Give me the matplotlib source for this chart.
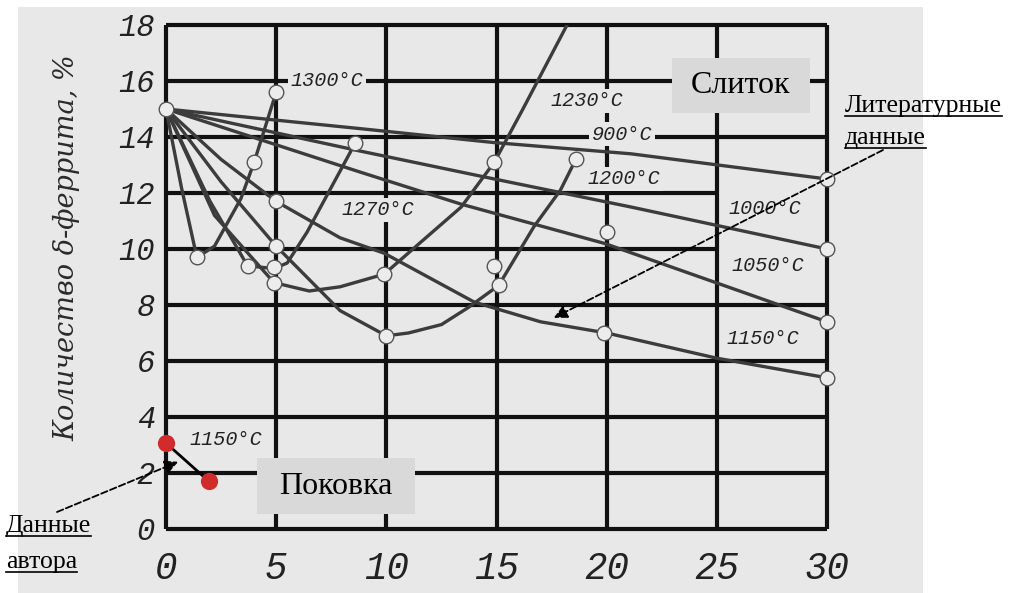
import numpy as np
import matplotlib.pyplot as plt
from matplotlib.patches import Rectangle
from matplotlib.lines import Line2D

# curves: hold time (x) vs amount of delta-ferrite, % (y)
t900 = [0, 8.8, 14.9, 21.1, 30]
f900 = [15, 14.3, 13.8, 13.4, 12.5]
t1000 = [0, 8.8, 14.9, 21.1, 30]
f1000 = [15, 13.5, 12.5, 11.5, 10.0]
t1050 = [0, 8.8, 13.4, 19.9, 30]
f1050 = [15, 12.75, 11.6, 10.2, 7.4]
t1150 = [0, 2.5, 5, 7.9, 9.9, 14, 17, 20, 25, 30]
f1150 = [15, 13.2, 11.7, 10.4, 9.85, 8.1, 7.4, 7.0, 6.1, 5.4]
t1200 = [0, 2.5, 5, 7.9, 10, 11, 12.5, 13.7, 15.1, 16.7, 17.9, 18.6]
f1200 = [15, 12.4, 10.1, 7.8, 6.9, 7.0, 7.3, 7.9, 8.7, 10.8, 12.1, 13.2]
t1230 = [0, 2.2, 4.9, 6.5, 7.9, 9.9, 11.5, 13.4, 14.9, 16.2, 18.2]
f1230 = [15, 11.2, 8.8, 8.5, 8.65, 9.1, 10.2, 11.5, 13.1, 15.0, 18.0]
t1270 = [0, 2.0, 3.7, 4.9, 5.5, 6.4, 7.5, 8.6]
f1270 = [15, 11.7, 9.4, 9.3, 9.5, 10.6, 12.2, 13.8]
t1300 = [0, 0.7, 1.4, 2.2, 3.4, 4.0, 5.0]
f1300 = [15, 12.2, 9.7, 10.1, 11.8, 13.1, 15.6]

# measured points (open circles)
circ_t = [0, 5, 4, 5, 5, 1.4, 3.7, 4.9, 4.9, 8.6, 14.9, 18.6, 20, 9.9,
          14.9, 15.1, 10, 19.9, 30, 30, 30, 30]
circ_f = [15, 15.6, 13.1, 11.7, 10.1, 9.7, 9.4, 9.36, 8.8, 13.8, 13.1, 13.2,
          10.6, 9.1, 9.4, 8.7, 6.9, 7.0, 12.5, 10.0, 7.4, 5.4]

# author's forging data (red)
red_t = [0, 1.95]
red_f = [3.07, 1.7]

curves = [(t900, f900), (t1000, f1000), (t1050, f1050), (t1150, f1150),
          (t1200, f1200), (t1230, f1230), (t1270, f1270), (t1300, f1300)]

# curve labels
lab_text = ['1300°C', '1230°C', '900°C', '1200°C', '1270°C', '1000°C',
            '1050°C', '1150°C', '1150°C']
lab_x = [7.3, 19.1, 20.7, 20.8, 9.6, 27.2, 27.3, 27.1, 2.7]
lab_y = [16.0, 15.3, 14.1, 12.5, 11.4, 11.45, 9.4, 6.8, 3.2]

x_ticks = [0, 5, 10, 15, 20, 25, 30]
y_ticks = [0, 2, 4, 6, 8, 10, 12, 14, 16, 18]

bg = '#e8e8e8'
W, H = 1011, 593


def fx(px):
    return px / W


def fy(py):
    return 1 - py / H


fig = plt.figure(figsize=(W / 100, H / 100), dpi=100)
fig.patch.set_facecolor('white')
fig.add_artist(Rectangle((fx(18), 0), fx(923) - fx(18), fy(7), transform=fig.transFigure,
                         facecolor=bg, edgecolor='none', zorder=0))

ax = fig.add_axes([fx(166), fy(529), fx(827) - fx(166), fy(25) - fy(529)])
ax.set_facecolor(bg)
ax.set_xlim(0, 30)
ax.set_ylim(0, 18)

# grid drawn by hand: lines at y=10 and y=12 stop at x=25 in the original
for yv in y_ticks:
    xmax = 25 if yv in (10, 12) else 30
    ax.hlines(yv, 0, xmax, color='#111111', lw=3, zorder=1, clip_on=False)
for xv in x_ticks:
    ax.vlines(xv, 0, 18, color='#111111', lw=3, zorder=1, clip_on=False)
for s in ax.spines.values():
    s.set_visible(False)

for t, f in curves:
    ax.plot(t, f, color='#3c3c3c', lw=2.4, solid_joinstyle='round', zorder=2)

ax.scatter(circ_t, circ_f, s=110, facecolor='#ececec', edgecolor='#555555',
           linewidth=1, zorder=4, clip_on=False)

ax.plot(red_t, red_f, color='black', lw=2, zorder=3)
ax.scatter(red_t, red_f, s=130, color='#d22b2b', zorder=5, clip_on=False)

for txt, x, y in zip(lab_text, lab_x, lab_y):
    ax.text(x, y, txt, ha='center', va='center', fontsize=14.5, family='Liberation Mono',
            style='italic', color='#222222', zorder=6,
            bbox=dict(boxstyle='square,pad=0.12', facecolor=bg, edgecolor='none'))

ax.set_xticks(x_ticks)
ax.set_yticks(y_ticks)
ax.set_xticklabels([str(v) for v in x_ticks], family='Liberation Mono', style='italic',
                   fontsize=27, color='#222222')
ax.set_yticklabels([str(v) for v in y_ticks], family='Liberation Mono', style='italic',
                   fontsize=22, color='#222222')
ax.tick_params(axis='both', length=0)
ax.tick_params(axis='x', pad=16)
ax.tick_params(axis='y', pad=8)

fig.text(fx(67), fy(248), 'Количество δ-феррита, %', rotation=90, ha='center', va='center',
         family='DejaVu Serif', style='italic', fontsize=19.5, color='#2a2a2a')

# boxes "Слиток" and "Поковка"
for (x0, y0, x1, y1), txt in [((672, 58, 810, 113), 'Слиток'), ((257, 458, 415, 514), 'Поковка')]:
    fig.add_artist(Rectangle((fx(x0), fy(y1)), fx(x1) - fx(x0), fy(y0) - fy(y1),
                             transform=fig.transFigure, facecolor='#d9d9d9',
                             edgecolor='none', zorder=7))
    fig.text(fx((x0 + x1) / 2), fy((y0 + y1) / 2), txt, ha='center', va='center',
             family='Liberation Serif', fontsize=23, color='black', zorder=8)

# dashed arrows
arrow = dict(arrowstyle='-|>', linestyle='--', color='black', lw=1.3, mutation_scale=20,
             shrinkA=0, shrinkB=0)
ax.annotate('', xy=(17.6, 7.54), xytext=(fx(883), fy(150)), textcoords='figure fraction',
            arrowprops=arrow, annotation_clip=False, zorder=9)
ax.annotate('', xy=(0.55, 2.4), xytext=(fx(57), fy(512)), textcoords='figure fraction',
            arrowprops=arrow, annotation_clip=False, zorder=9)

# underlined notes
notes = [('Литературные', 845, 106), ('данные', 845, 138),
         ('Данные', 6, 526), ('автора', 6, 562)]
note_txt = []
for txt, x, y in notes:
    note_txt.append(fig.text(fx(x), fy(y), txt, ha='left', va='center',
                             family='Liberation Serif', fontsize=18.5, color='black'))

fig.canvas.draw()
r = fig.canvas.get_renderer()
for t in note_txt:
    bb = t.get_window_extent(r)
    yl = bb.y0 + 1
    fig.add_artist(Line2D([bb.x0 / W, bb.x1 / W], [yl / H, yl / H],
                          transform=fig.transFigure, color='black', lw=1.2))

fig.savefig('out.png', dpi=100)
